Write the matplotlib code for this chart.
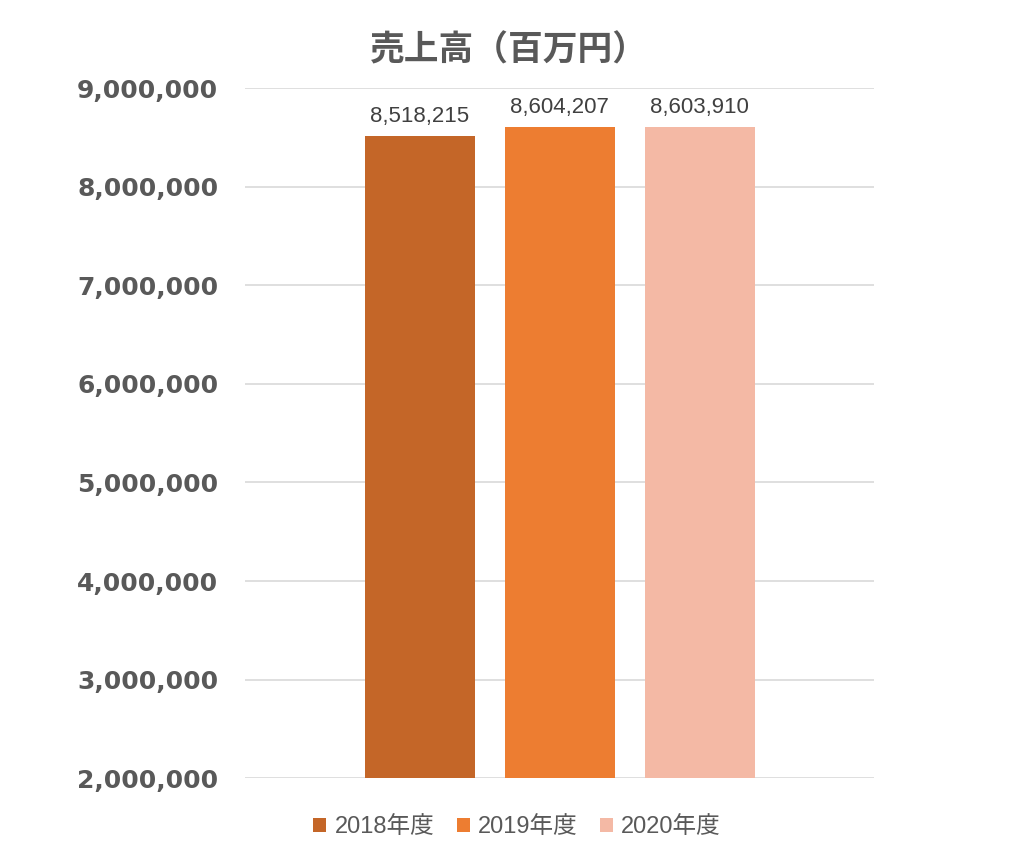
import matplotlib
matplotlib.use('Agg')
import matplotlib.pyplot as plt
from matplotlib.ticker import FuncFormatter, MultipleLocator
from matplotlib.patches import Patch

# data
years = ['2018年度', '2019年度', '2020年度']
sales = [8518215, 8604207, 8603910]
colors = ['#C46628', '#ED7D31', '#F4B9A5']

plt.rcParams['font.family'] = ['Liberation Sans', 'Noto Sans CJK JP', 'DejaVu Sans']

fig = plt.figure(figsize=(10.24, 8.57), dpi=100)
ax = fig.add_axes([0.239, 0.092, 0.615, 0.805])

x = list(range(len(years)))
bars = ax.bar(x, sales, width=0.786, color=colors, zorder=3)

for xi, v in zip(x, sales):
	ax.text(xi, v + 90000, f'{v:,}', ha='center', va='bottom',
			fontsize=16, color='#404040')

ax.set_xlim(-1.25, 3.25)
ax.set_ylim(2000000, 9000000)
ax.yaxis.set_major_locator(MultipleLocator(1000000))
ax.yaxis.set_major_formatter(FuncFormatter(lambda v, p: f'{int(v):,}'))
ax.grid(axis='y', color='#D9D9D9', linewidth=1.2, zorder=0)
ax.set_xticks([])
for s in ax.spines.values():
	s.set_visible(False)
ax.tick_params(axis='y', length=0, pad=19)
for lab in ax.get_yticklabels():
	lab.set_family('DejaVu Sans')
	lab.set_fontweight('bold')
	lab.set_fontsize(18)
	lab.set_color('#595959')

fig.text(0.497, 0.942, '売上高（百万円）', ha='center', va='center',
		 fontsize=25, fontweight='bold', color='#595959',
		 family=['Noto Sans CJK JP', 'DejaVu Sans'])

handles = [Patch(facecolor=c, edgecolor='none') for c in colors]
leg = fig.legend(handles, years, loc='center', bbox_to_anchor=(0.505, 0.035),
				 ncol=3, frameon=False, fontsize=17, handlelength=0.55,
				 handleheight=0.55, handletextpad=0.35, columnspacing=0.95)
for t in leg.get_texts():
	t.set_color('#595959')

fig.savefig('out.png', dpi=100, facecolor='white')
